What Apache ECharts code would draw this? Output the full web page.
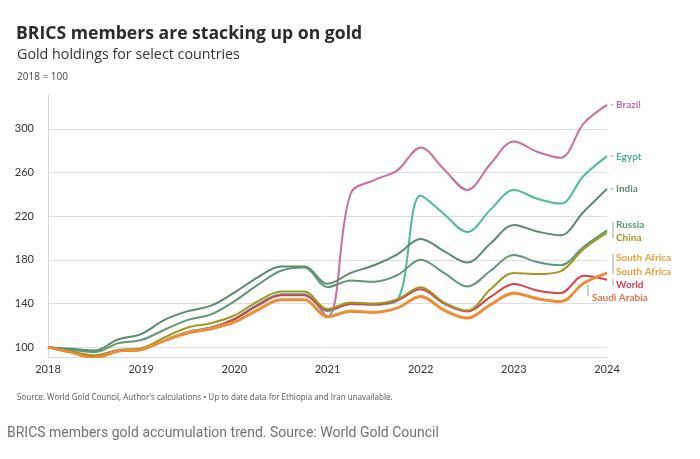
<!DOCTYPE html>
<html><head><meta charset="utf-8">
<script src="https://cdn.jsdelivr.net/npm/echarts@6/dist/echarts.min.js"></script>
<style>html,body{margin:0;padding:0;background:#fff}#c{width:700px;height:459px}</style>
</head><body><div id="c"></div>
<script>
const quarters = [2018,2018.25,2018.5,2018.75,2019,2019.25,2019.5,2019.75,2020,2020.25,2020.5,2020.75,2021,2021.25,2021.5,2021.75,2022,2022.25,2022.5,2022.75,2023,2023.25,2023.5,2023.75,2024];
const yearTicks = [2018,2019,2020,2021,2022,2023,2024];
const yTicks = [100,140,180,220,260,300];

const brazil      = [100,95.5,91.5,96.5,98,106.5,114,118,126,139,148,148,128,241,253,262,283,263,244,268,288.5,279,273.5,305,322];
const egypt       = [100,95.5,91.5,96.5,98,106.5,114,118,126,139,148.5,148.5,133,139.5,139,143,239,222,205.5,226,244,236,231.5,257,275];
const india       = [100,98.5,97,107,112,125,133,138,150,164,174,174,158,168,175,185,199,188,177.5,195,212,206,202.5,224,245];
const russia      = [100,97.5,95.5,103.5,106.5,116,125,130,142,157,170,173,155,161,160,166,180,168,155.5,170,184.5,178,175,192,207];
const world       = [100,95.5,91,96.5,98,106,113.5,117.5,125.5,138,147.5,147.5,134,139.5,139,143,153,140,132.7,146,157.8,152,149.5,165.4,161.7];
const china       = [100,96,92.5,97.5,99,109,118,122,129,142,151,151,135,141,140,144,155,141,133.5,153,168,167,169.5,190,205];
const southAfrica = [100,95,90,96,97.5,106,113,117,123,134,143.4,143.4,128,133,132,136,146.4,134,126.6,139,149.5,144.5,141.8,158.7,167.9];
const southAfrica2= [100,95,90.5,96.5,98,106.5,113.5,117.5,123.5,134.5,144,144,128.5,133.5,132.5,136.5,147,134.5,127.2,139.5,150,145,142.3,159.2,168.3];
const saudiArabia = [100,95,90,96,97.5,105.5,112.5,116.5,122.5,133.5,143,143,127.5,132.5,131.5,135.5,146,133.5,126.2,138.5,149,144,141.3,158.3,167.5];

const FONT = 'Lato';
const TFONT = 'Open Sans';
const seriesDefs = [
  {name:'Brazil', data:brazil, color:'#c96f9e', label:'#c2739c', off:[9,0]},
  {name:'Egypt', data:egypt, color:'#4fb99c', label:'#4aae98', off:[9,1]},
  {name:'India', data:india, color:'#5b8a6d', label:'#5b8a6d', off:[9,0]},
  {name:'Russia', data:russia, color:'#5f9877', label:'#5f9877', off:[9,-5.5]},
  {name:'World', data:world, color:'#d8414f', label:'#d33f55', off:[9,4.7]},
  {name:'China', data:china, color:'#a09a22', label:'#a39a22', off:[9,5.7]},
  {name:'South Africa', data:southAfrica, color:'#eba23c', label:'#eb9f3a', off:[9,-15.4]},
  {name:'South Africa ', data:southAfrica2, color:'#ec9a3a', label:'#eb9f3a', off:[9,-1], text:'South Africa'},
  {name:'Saudi Arabia', data:saudiArabia, color:'#ee8a38', label:'#e8704c', off:[-15,24.7]}
];

const chart = echarts.init(document.getElementById('c'), null, {renderer:'canvas'});
const series = seriesDefs.map(d => ({
  name: d.name, type:'line', smooth:0.35, symbol:'none',
  data: quarters.map((q,i)=>[q, d.data[i]]),
  lineStyle:{color:d.color, width:2},
  itemStyle:{color:d.color},
  endLabel:{show:true, formatter:d.text||d.name, color:d.label, fontSize:10, fontFamily:FONT, fontWeight:'bold', distance:0, offset:d.off, align:'left', verticalAlign:'middle'},
  emphasis:{disabled:true},
  animation:false
}));

chart.setOption({
  animation:false,
  backgroundColor:'#fff',
  title:[
    {text:'BRICS members are stacking up on gold', left:11, top:20, textStyle:{fontSize:17.6, fontWeight:'bold', color:'#2b2b2b', fontFamily:TFONT}},
    {text:'Gold holdings for select countries', left:12, top:43, textStyle:{fontSize:14.3, fontWeight:'normal', color:'#333', fontFamily:TFONT}},
    {text:'2018 = 100', left:12, top:67, textStyle:{fontSize:10, fontWeight:'normal', color:'#444', fontFamily:TFONT}},
    {text:"Source: World Gold Council, Author's calculations \u2022 Up to date data for Ethiopia and Iran unavailable.", left:12, top:389, textStyle:{fontSize:8.05, fontWeight:'normal', color:'#555', fontFamily:TFONT}},
    {text:'BRICS members gold accumulation trend. Source: World Gold Council', left:2, top:421, textStyle:{fontSize:14, fontWeight:'normal', color:'#6e717d', fontFamily:'Roboto'}}
  ],
  grid:{left:48, right:93, top:95, bottom:102, containLabel:false},
  xAxis:{type:'value', min:2018, max:2024, interval:1,
    axisLine:{show:true, lineStyle:{color:'#d6d6d6'}},
    axisTick:{show:false}, splitLine:{show:false},
    axisLabel:{customValues:yearTicks, formatter:v=>String(v), color:'#333', fontSize:11, fontFamily:FONT, margin:7}
  },
  yAxis:{type:'value', min:91, max:331,
    axisLine:{show:true, lineStyle:{color:'#d6d6d6'}},
    axisTick:{show:false, customValues:yTicks},
    splitLine:{show:true, lineStyle:{color:'#dedede', width:1}},
    axisLabel:{customValues:yTicks, color:'#333', fontSize:11, fontFamily:FONT, margin:14}
  },
  series: series
});

// leader lines / brackets next to end labels
function px(v){ return chart.convertToPixel({gridIndex:0}, [2024, v]); }
const gray = '#a0a0a0';
const g = [];
function seg(x1,y1,x2,y2){ g.push({type:'line', shape:{x1,y1,x2,y2}, style:{stroke:gray, lineWidth:1}, silent:true}); }
[brazil, egypt, india].forEach(arr => { const p = px(arr[arr.length-1]); seg(p[0]+3.5, p[1], p[0]+6.5, p[1]); });
{ const a = px(russia[russia.length-1]); seg(a[0]+6, a[1]-8, a[0]+6, a[1]+8); }
{ const a = px(southAfrica[southAfrica.length-1]); seg(a[0]+6, a[1]-19, a[0]+6, a[1]+1); }
{ const a = px(world[world.length-1]); seg(a[0]+6, a[1]-1, a[0]+6, a[1]+6); }
{ const a = px(saudiArabia[saudiArabia.length-1]); seg(a[0]-19, a[1]+11, a[0]-19, a[1]+23); }
chart.setOption({graphic:g});
</script></body></html>
